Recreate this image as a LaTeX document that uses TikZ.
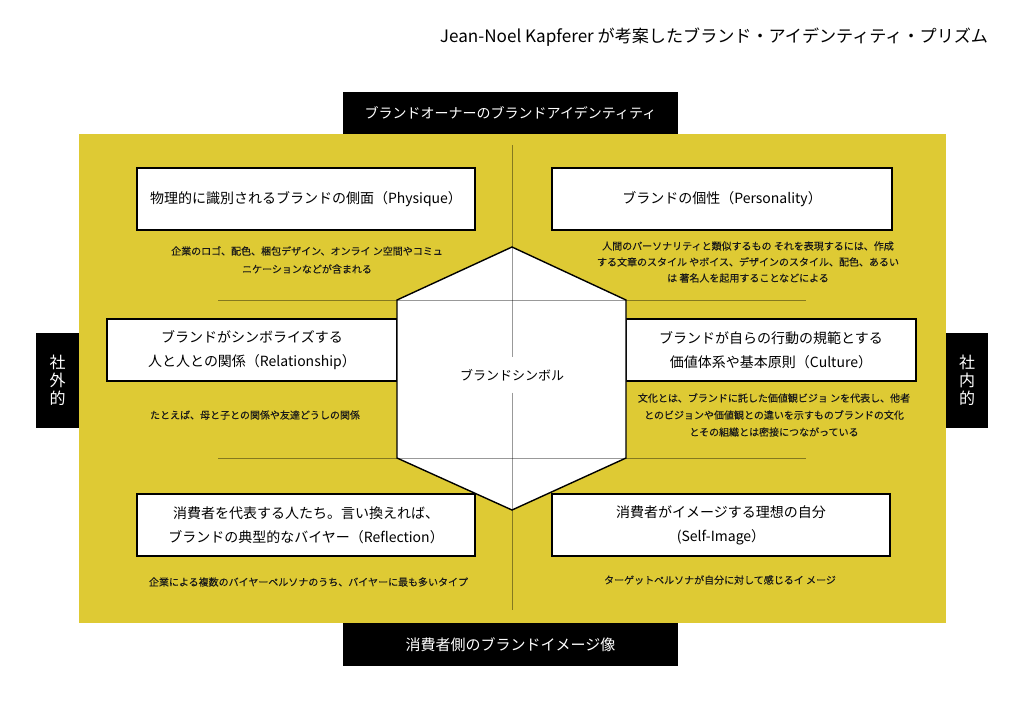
\documentclass[tikz,border=0pt]{standalone}
\usepackage{fontspec}
\setmainfont{Noto Sans CJK JP}
\newfontfamily\notefont[FakeBold=0.15]{Noto Sans CJK JP}
\definecolor{prismyellow}{RGB}{222,202,52}
\definecolor{subtext}{RGB}{25,25,25}
\tikzset{
  titlebox/.style={draw=black, line width=1.2pt, fill=white, inner sep=0pt, align=center,
    font=\fontsize{14}{24}\selectfont},
  blackbox/.style={fill=black, text=white, inner sep=0pt, align=center},
  subnote/.style={inner sep=0pt, align=center, text=subtext},
  gridline/.style={draw=black, draw opacity=0.4, line width=0.8pt},
}
\begin{document}
\begin{tikzpicture}[x=1pt,y=-1pt]
\useasboundingbox (0,0) rectangle (1024,721);
\fill[white] (0,0) rectangle (1024,721);
% title
\node[inner sep=0pt, font=\fontsize{17.1}{20}\selectfont] (title) at (714,37) {Jean-Noel Kapferer が考案したブランド・アイデンティティ・プリズム};
% yellow field
\fill[prismyellow] (79,134) rectangle (946,623);
% side / top / bottom labels
\node[blackbox, minimum width=335, minimum height=42, font=\fontsize{14}{17}\selectfont] (owner) at (510.5,113) {ブランドオーナーのブランドアイデンティティ};
\node[blackbox, minimum width=335, minimum height=43, font=\fontsize{15}{17}\selectfont] (consumer) at (510.5,644.5) {消費者側のブランドイメージ像};
\node[blackbox, minimum width=43, minimum height=95, font=\fontsize{16}{18}\selectfont] (outside) at (57.5,380) {社\\外\\的};
\node[blackbox, minimum width=42, minimum height=95, font=\fontsize{16}{18}\selectfont] (inside) at (967,380) {社\\内\\的};
% hexagon
\coordinate (h1) at (512,247);
\coordinate (h2) at (626,300);
\coordinate (h3) at (626,458);
\coordinate (h4) at (512,510);
\coordinate (h5) at (397,458);
\coordinate (h6) at (397,300);
% boxes
\node[titlebox, minimum width=338, minimum height=62] (phys) at (306,199) {物理的に識別されるブランドの側面（Physique）};
\node[titlebox, minimum width=340, minimum height=62] (pers) at (722,199) {ブランドの個性（Personality）};
\node[titlebox, minimum width=290, minimum height=62] (rel) at (252,350) {ブランドがシンボライズする\\人と人との関係（Relationship）};
\node[titlebox, minimum width=290, minimum height=62] (cult) at (771,350) {ブランドが自らの行動の規範とする\\価値体系や基本原則（Culture）};
\node[titlebox, minimum width=338, minimum height=62] (refl) at (306,525) {消費者を代表する人たち。言い換えれば、\\ブランドの典型的なバイヤー（Reflection）};
\node[titlebox, minimum width=338, minimum height=62] (self) at (721,525) {消費者がイメージする理想の自分\\(Self-Image）};
\filldraw[fill=white, draw=black, line width=1.4pt, line join=miter] (h1) -- (h2) -- (h3) -- (h4) -- (h5) -- (h6) -- cycle;
% centre label
\node[inner sep=0pt, minimum height=35, font=\fontsize{13}{16}\selectfont] (symbol) at (512,375) {ブランドシンボル};
% grid lines
\coordinate (vtop) at (512,145);
\coordinate (vbot) at (512,610);
\coordinate (l1) at (218,300);
\coordinate (r1) at (806,300);
\coordinate (l2) at (218,458);
\coordinate (r2) at (806,458);
\draw[gridline] (vtop) -- (symbol.north);
\draw[gridline] (symbol.south) -- (vbot);
\draw[gridline] (l1) -- (r1);
\draw[gridline] (l2) -- (r2);
% sub notes
\node[subnote, font=\notefont\fontsize{10}{18}\selectfont] (physsub) at (307,260) {企業のロゴ、配色、梱包デザイン、オンライ ン空間やコミュ\\ニケーションなどが含まれる};
\node[subnote, font=\notefont\fontsize{10}{16}\selectfont] (perssub) at (748,262) {人間のパーソナリティと類似するもの それを表現するには、作成\\する文章のスタイル やボイス、デザインのスタイル、配色、あるい\\は 著名人を起用することなどによる};
\node[subnote, font=\notefont\fontsize{10}{16}\selectfont] (relsub) at (255,415) {たとえば、母と子との関係や友達どうしの関係};
\node[subnote, font=\notefont\fontsize{10}{17}\selectfont] (cultsub) at (774,415) {文化とは、ブランドに託した価値観ビジョ ンを代表し、他者\\とのビジョンや価値観との違いを示すものブランドの文化\\とその組織とは密接につながっている};
\node[subnote, font=\notefont\fontsize{10}{16}\selectfont] (reflsub) at (308.5,582) {企業による複数のバイヤーペルソナのうち、バイヤーに最も多いタイプ};
\node[subnote, font=\notefont\fontsize{10}{16}\selectfont] (selfsub) at (720,580) {ターゲットペルソナが自分に対して感じるイ メージ};
\end{tikzpicture}
\end{document}
